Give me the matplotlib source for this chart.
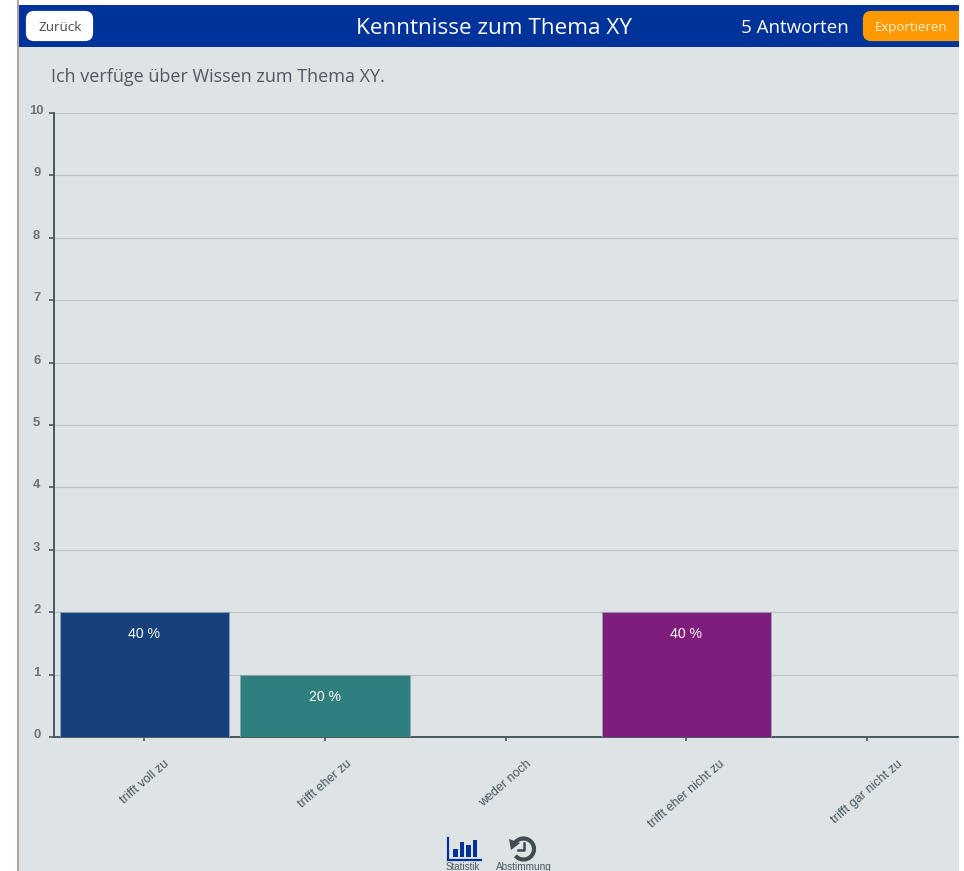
import matplotlib
matplotlib.use("Agg")
import matplotlib.pyplot as plt
from matplotlib.patches import Rectangle, FancyBboxPatch, Arc, Polygon
from matplotlib.transforms import ScaledTranslation

categories = ["trifft voll zu", "trifft eher zu", "weder noch", "trifft eher nicht zu", "trifft gar nicht zu"]
counts = [2, 1, 0, 2, 0]
percent_labels = ["40 %", "20 %", "", "40 %", ""]
bar_colors = ["#17417d", "#2e7f7d", "#1f77b4", "#7f1d7d", "#888888"]
y_ticks = list(range(0, 11))
title = "Kenntnisse zum Thema XY"
question = "Ich verfüge über Wissen zum Thema XY."
answers = "5 Antworten"

W, H = 964, 871
BG = "#dee3e6"
BLUE = "#003399"
AXC = "#47585f"

fig = plt.figure(figsize=(W / 100, H / 100), dpi=100, facecolor="white")

# page chrome in pixel coordinates
ui = fig.add_axes([0, 0, 1, 1], zorder=0)
ui.set_xlim(0, W); ui.set_ylim(H, 0); ui.axis("off")
ui.add_patch(Rectangle((19, 5), 940, H - 5, fc=BG, ec="none"))
ui.add_patch(Rectangle((17, 0), 2, H, fc="#a8a5a0", ec="none"))
ui.add_patch(Rectangle((19, 5), 940, 42, fc=BLUE, ec="none"))
ui.add_patch(FancyBboxPatch((28, 13), 63, 26, boxstyle="round,pad=0,rounding_size=6",
                            fc="white", ec="white", lw=3))
ui.add_patch(FancyBboxPatch((865, 13), 100, 26, boxstyle="round,pad=0,rounding_size=6",
                            fc="#ff9900", ec="#ff9900", lw=3))
ui.add_patch(Rectangle((959, 0), 5, H, fc="white", ec="none", zorder=5))
OS = "Open Sans"
ui.text(60, 27.5, "Zurück", ha="center", va="center", family=OS, fontsize=9.7, color="#4a4a4a")
ui.text(493.5, 28, title, ha="center", va="center", family=OS, fontsize=16.2, color="white")
ui.text(795, 28, answers, ha="center", va="center", family=OS, fontsize=13.5, color="white")
ui.text(911.5, 27.5, "Exportieren", ha="center", va="center", family=OS, fontsize=9.5, color="#fff0d0")
ui.text(51, 77, question, ha="left", va="center", family=OS, fontsize=12.95, color="#4f5a60")

# statistics icon
ui.plot([447.5, 447.5, 481], [838, 859.5, 859.5], color=BLUE, lw=1.6, solid_joinstyle="miter")
for x0, ytop in [(453, 849), (459.5, 842), (466, 845), (472.5, 840)]:
    ui.add_patch(Rectangle((x0, ytop), 4.8, 857 - ytop, fc=BLUE, ec="none"))
ui.text(462.5, 866.5, "Statistik", ha="center", va="center", family="Liberation Sans", fontsize=7.0, color=AXC)

# history icon
ui.add_patch(Arc((523.5, 849), 21, 21, theta1=220, theta2=500, color="#3f4c52", lw=3.0))
ui.add_patch(Polygon([[509, 839], [520, 843], [511, 850]], fc="#3f4c52", ec="none"))
ui.plot([523.5, 523.5, 518], [843, 850, 850], color="#3f4c52", lw=1.8)
ui.text(524, 866.5, "Abstimmung", ha="center", va="center", family="Liberation Sans", fontsize=7.2, color=AXC)

# chart
left, right, top, bottom = 54, 957.5, 113, 737
ax = fig.add_axes([left / W, 1 - bottom / H, (right - left) / W, (bottom - top) / H], zorder=1)
ax.patch.set_alpha(0)
x = list(range(len(categories)))
bars = ax.bar(x, counts, width=0.936, color=bar_colors, edgecolor="#8fa3b5", linewidth=0.6, zorder=3)
ax.set_xlim(-0.5, 4.5)
ax.set_ylim(0, 10)
ax.set_yticks(y_ticks)
ax.set_xticks(x)
ax.set_xticklabels(categories, rotation=41, ha="center", va="top", rotation_mode="default",
                   family="Liberation Sans", fontsize=9.0, color=AXC)
ax.set_yticklabels([str(v) for v in y_ticks], family="Liberation Sans", fontsize=9.4,
                   fontweight="bold", color="#6a7378", ha="center")
ax.grid(axis="y", color="#bcc3c5", lw=0.9, zorder=0)
ax.set_axisbelow(True)
for s in ("top", "right"):
    ax.spines[s].set_visible(False)
for s in ("left", "bottom"):
    ax.spines[s].set_color(AXC)
    ax.spines[s].set_linewidth(1.4)
ax.tick_params(axis="y", length=3.5, width=1.2, color=AXC, pad=9)
ax.tick_params(axis="x", length=3, width=1.2, color=AXC, pad=12)
shift = ScaledTranslation(0, 2.5 / 72, fig.dpi_scale_trans)
for lab in ax.get_yticklabels():
    lab.set_transform(lab.get_transform() + shift)
for b, lab in zip(bars, percent_labels):
    if lab:
        ax.annotate(lab, (b.get_x() + b.get_width() / 2, b.get_height()), xytext=(0, -22),
                    textcoords="offset pixels", ha="center", va="center",
                    family="Liberation Sans", fontsize=10.2, color="white", zorder=4)

fig.savefig("out.png", dpi=100, facecolor="white")
